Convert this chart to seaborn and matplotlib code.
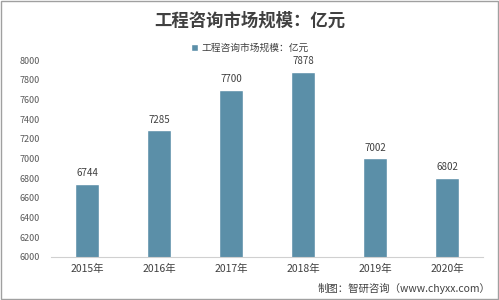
import matplotlib
matplotlib.use("Agg")
import matplotlib.pyplot as plt
import seaborn as sns
import pandas as pd
from matplotlib.patches import Rectangle

years = ["2015年", "2016年", "2017年", "2018年", "2019年", "2020年"]
values = [6744, 7285, 7700, 7878, 7002, 6802]
series_name = "工程咨询市场规模：亿元"
title = "工程咨询市场规模：亿元"
source = "制图：智研咨询（www.chyxx.com）"

sns.set_theme(style="white")
plt.rcParams['font.family'] = ['Noto Sans CJK SC', 'DejaVu Sans']

df = pd.DataFrame({"year": years, "value": values, "series": series_name})

fig = plt.figure(figsize=(4.99, 3.0), dpi=100)
ax = fig.add_axes([51/499, 43/300, 432/499, 197/300])
color = "#5b8fa8"
sns.barplot(data=df, x="year", y="value", hue="series", palette=[color],
            saturation=1, width=0.34, ax=ax, legend=True)
ax.set_ylim(6000, 8000)
ax.set_xlim(-0.5, 5.5)
ax.set_yticks(range(6000, 8001, 200))
ax.tick_params(axis='y', labelsize=6.5, colors="#595959", length=0, pad=8)
ax.tick_params(axis='x', labelsize=7.5, colors="#404040", length=0, pad=5)
ax.set_xlabel("")
ax.set_ylabel("")
for s in ["top", "right", "left"]:
    ax.spines[s].set_visible(False)
ax.spines["bottom"].set_color("#d0d0d0")
ax.spines["bottom"].set_linewidth(0.8)

for c in ax.containers:
    ax.bar_label(c, labels=[str(v) for v in values], padding=4, fontsize=7, color="#404040")

leg = ax.legend(loc="center", bbox_to_anchor=(250/499, 1 - 48/300), bbox_transform=fig.transFigure,
                frameon=False, fontsize=7, handlelength=0.7, handleheight=0.7, handletextpad=0.4)
for t in leg.get_texts():
    t.set_color("#404040")

fig.text(250/499, 1 - 21/300, title, ha="center", va="center", fontsize=12.5,
         fontweight="bold", color="#404040")
fig.text(490/499, 12/300, source, ha="right", va="center", fontsize=7.5, color="#404040")

fig.patches.append(Rectangle((0.002, 0.003), 0.995, 0.994, transform=fig.transFigure,
                             fill=False, edgecolor="#a0a0a0", linewidth=1))

fig.savefig("out.png", dpi=100)
